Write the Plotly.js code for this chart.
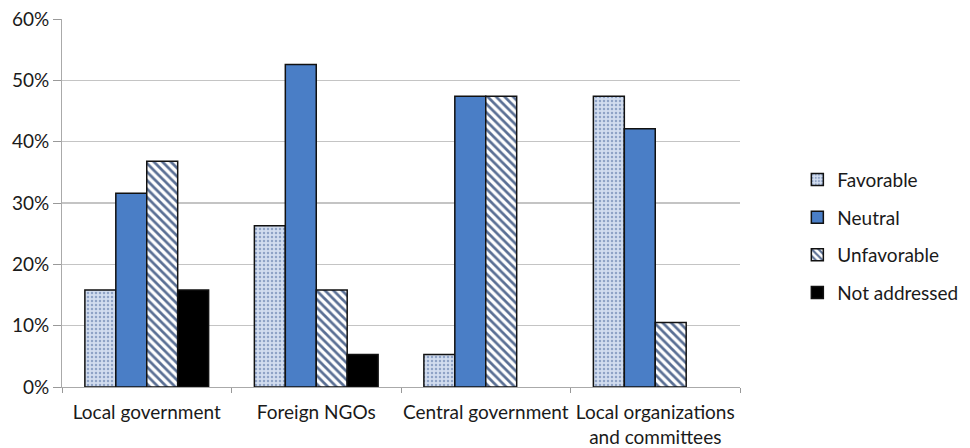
<!DOCTYPE html>
<html>
<head>
<meta charset="utf-8">
<script src="https://cdn.plot.ly/plotly-3.0.1.min.js"></script>
<style>html,body{margin:0;padding:0;background:#fff}</style>
</head>
<body>
<div id="chart" style="width:970px;height:448px"></div>
<script>
const categories = ["Local government", "Foreign NGOs", "Central government", "Local organizations<br>and committees"];
const favorable = [15.8, 26.3, 5.3, 47.4];
const neutral = [31.6, 52.6, 47.4, 42.1];
const unfavorable = [36.8, 15.8, 47.4, 10.5];
const notAddressed = [15.8, 5.3, null, null];
const seriesNames = ["Favorable", "Neutral", "Unfavorable", "Not addressed"];
const yTickVals = [0, 10, 20, 30, 40, 50, 60];
const yTickText = ["0%", "10%", "20%", "30%", "40%", "50%", "60%"];

const line = {color: "#111", width: 1.5};
const traces = [
  {name: seriesNames[0], y: favorable, marker: {color: "#c9d6ec", line: line,
    pattern: {shape: ".", fgcolor: "#8fa3c6", bgcolor: "#d2ddef", size: 4, solidity: 0.3}}},
  {name: seriesNames[1], y: neutral, marker: {color: "#4a7ec6", line: line}},
  {name: seriesNames[2], y: unfavorable, marker: {color: "#ffffff", line: line,
    pattern: {shape: "\\", fgcolor: "#5a6f94", bgcolor: "#ffffff", size: 6, solidity: 0.45}}},
  {name: seriesNames[3], y: notAddressed, marker: {color: "#000000", line: line}}
].map((t, i) => Object.assign({type: "bar", x: categories, legendgroup: "g" + i}, t));

const layout = {
  width: 970, height: 448,
  margin: {l: 62, r: 230, t: 19, b: 61},
  paper_bgcolor: "#fff", plot_bgcolor: "#fff",
  font: {family: "Lato, 'Open Sans', sans-serif", size: 19, color: "#1a1a1a"},
  barmode: "group", bargap: 0.27, bargroupgap: 0,
  showlegend: true,
  legend: {xref: "container", x: 0.822, y: 0.41, xanchor: "left", yanchor: "middle", tracegroupgap: 10,
    font: {size: 19, color: "#1a1a1a"}, itemwidth: 30},
  xaxis: {
    tickson: "boundaries", ticks: "outside", ticklen: 5, tickcolor: "#999",
    showline: true, linecolor: "#aaa", linewidth: 1, showgrid: false,
    tickangle: 0, tickfont: {size: 19}, ticklabelstandoff: 8, automargin: false
  },
  yaxis: {
    range: [0, 60], tickvals: yTickVals, ticktext: yTickText,
    ticks: "outside", ticklen: 8, tickcolor: "#999",
    showline: true, linecolor: "#aaa", linewidth: 1,
    showgrid: true, gridcolor: "#c4c4c4", gridwidth: 1.5,
    zeroline: false, tickfont: {size: 19}, automargin: false
  }
};

Plotly.newPlot("chart", traces, layout, {displayModeBar: false, staticPlot: true});
</script>
</body>
</html>
